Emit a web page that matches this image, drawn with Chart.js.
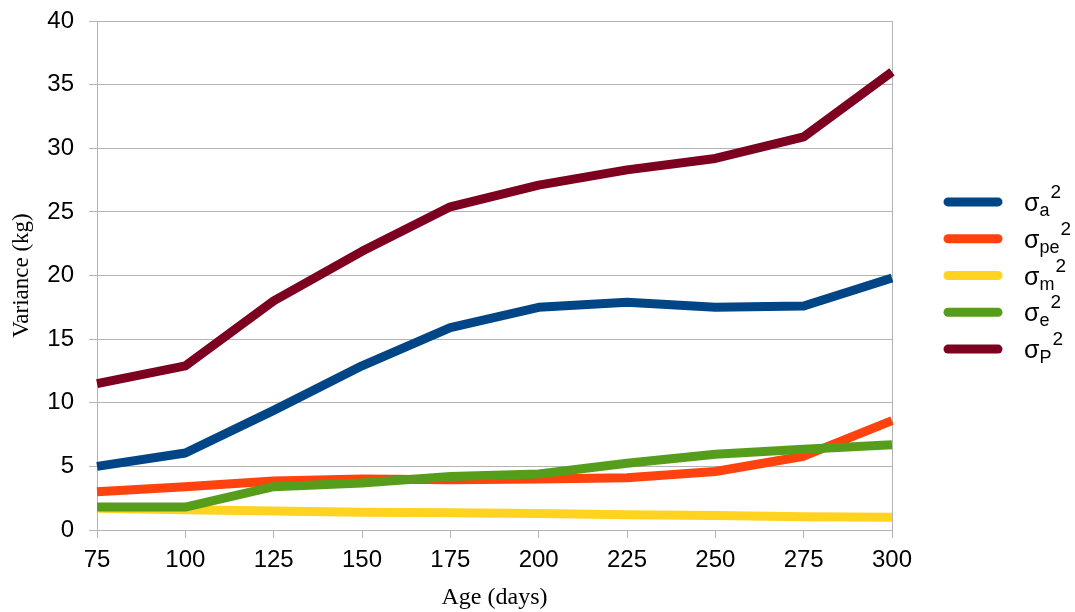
<!DOCTYPE html>
<html>
<head>
<meta charset="utf-8">
<script src="https://cdn.jsdelivr.net/npm/chart.js@4"></script>
<style>
  body { margin: 0; background: #fff; }
</style>
</head>
<body>
<canvas id="grafico" width="1075" height="612"></canvas>
<script>
// edades (días)
const edades = ['75', '100', '125', '150', '175', '200', '225', '250', '275', '300'];

// componentes de varianza (kg)
const varA  = [5.0, 6.05, 9.4, 12.9, 15.9, 17.5, 17.9, 17.5, 17.6, 19.8];
const varPe = [3.0, 3.4, 3.85, 4.0, 3.95, 4.0, 4.1, 4.6, 5.8, 8.6];
const varM  = [1.7, 1.6, 1.5, 1.4, 1.35, 1.3, 1.2, 1.13, 1.05, 1.0];
const varE  = [1.8, 1.8, 3.4, 3.7, 4.2, 4.4, 5.25, 5.95, 6.35, 6.7];
const varP  = [11.5, 12.9, 18.0, 21.9, 25.4, 27.1, 28.3, 29.2, 30.9, 36.0];

// subindices de la leyenda
const subindices = ['a', 'pe', 'm', 'e', 'P'];
const colores = ['#004586', '#ff420e', '#ffd320', '#579d1c', '#7e0021'];
const series = [varA, varPe, varM, varE, varP];

const gris = '#b3b3b3';

// leyenda dibujada a mano para poder poner subindice y exponente
const leyendaSigma = {
  id: 'leyendaSigma',
  afterDraw(chart) {
    const c = chart.ctx;
    const area = chart.chartArea;
    const paso = 36.8;
    const centro = (area.top + area.bottom) / 2;
    c.save();
    subindices.forEach((s, i) => {
      const y = centro + (i - 2) * paso;
      c.strokeStyle = colores[i];
      c.lineWidth = 9;
      c.lineCap = 'round';
      c.beginPath();
      c.moveTo(948, y);
      c.lineTo(998, y);
      c.stroke();

      c.fillStyle = '#000';
      c.textBaseline = 'alphabetic';
      let x = 1024;
      c.font = '25px "Liberation Sans"';
      c.fillText('σ', x, y + 9);
      x += c.measureText('σ').width;
      c.font = '18px "Liberation Sans"';
      c.fillText(s, x, y + 14);
      x += c.measureText(s).width + 1;
      c.font = '19px "Liberation Sans"';
      c.fillText('2', x, y - 4);
    });
    c.restore();
  }
};

const ctx = document.getElementById('grafico');

new Chart(ctx, {
  type: 'line',
  data: {
    labels: edades,
    datasets: series.map((d, i) => ({
      label: 'σ' + subindices[i] + '²',
      data: d,
      borderColor: colores[i],
      backgroundColor: colores[i],
      borderWidth: 9,
      pointRadius: 0,
      tension: 0,
      borderJoinStyle: 'round',
      order: 5 - i
    }))
  },
  options: {
    responsive: false,
    animation: false,
    devicePixelRatio: 1,
    layout: { padding: { top: 21, right: 183, left: 0, bottom: 0 } },
    plugins: {
      legend: { display: false },
      tooltip: { enabled: false }
    },
    scales: {
      x: {
        offset: false,
        afterFit: s => { s.height = 82; },
        grid: {
          color: c => c.index === edades.length - 1 ? gris : 'rgba(0,0,0,0)',
          tickColor: gris,
          tickLength: 8
        },
        border: { color: gris },
        ticks: {
          color: '#000',
          font: { family: 'Liberation Sans', size: 24 },
          padding: 8,
          maxRotation: 0
        },
        title: {
          display: true,
          text: 'Age (days)',
          color: '#000',
          font: { family: 'Liberation Serif', size: 24 },
          padding: { top: 0, bottom: 0 }
        }
      },
      y: {
        min: 0,
        max: 40,
        afterFit: s => { s.width = 97; s.paddingTop = 0; s.paddingBottom = 0; },
        grid: { color: gris, tickColor: gris, tickLength: 8 },
        border: { color: gris },
        ticks: {
          stepSize: 5,
          color: '#000',
          font: { family: 'Liberation Sans', size: 24 },
          padding: 15
        },
        title: {
          display: true,
          text: 'Variance (kg)',
          color: '#000',
          font: { family: 'Liberation Serif', size: 23 },
          padding: { top: 8, bottom: 7 }
        }
      }
    }
  },
  plugins: [leyendaSigma]
});
</script>
</body>
</html>
